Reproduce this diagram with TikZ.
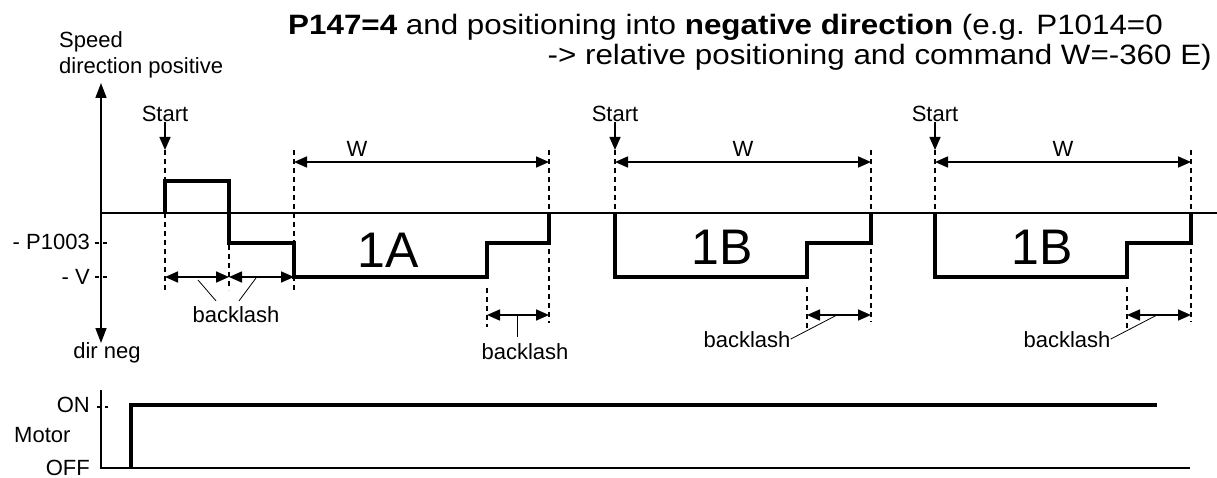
\documentclass[tikz,border=0pt]{standalone}
\usepackage{fontspec}
\setmainfont{Liberation Sans}
\usetikzlibrary{arrows.meta,positioning}

\tikzset{
  signal/.style={line width=4pt,line join=miter},
  axisline/.style={line width=1.6pt},
  guide/.style={line width=1.6pt,dash pattern=on 5pt off 4pt},
  tip/.style={line width=1.6pt,-{Triangle[length=13pt,width=11pt]}},
  dim/.style={line width=1.6pt,{Triangle[length=13pt,width=11pt]}-{Triangle[length=13pt,width=11pt]}},
  leader/.style={line width=0.8pt},
  lbl/.style={font=\fontsize{22}{26}\selectfont,inner sep=0pt},
  big/.style={font=\fontsize{50}{56}\selectfont,inner sep=0pt},
  ttl/.style={font=\fontsize{28}{32}\selectfont,inner sep=0pt,xscale=1.12}
}

\begin{document}
\begin{tikzpicture}[x=1pt,y=-1pt]
\useasboundingbox (0,0) rectangle (1217,478);

% title
\node[ttl,anchor=base west] (t1) at (288,35) {\textbf{P147=4} and positioning into \textbf{negative direction} (e.g. P1014=0};
\node[ttl,anchor=base east] (t2) at (1212,65) {-> relative positioning and command W=-360 E)};

% speed axis
\coordinate (yup) at (101,83);
\coordinate (ydn) at (101,343);
\draw[axisline,{Triangle[length=15pt,width=11pt]}-{Triangle[length=15pt,width=11pt]}] (ydn) -- (yup);
\draw[axisline] (101,213) -- (1217,213);
\node[lbl,anchor=base west] (spd) at (59,48) {Speed};
\node[lbl,anchor=base west] (dpos) at (59,74) {direction positive};
\node[lbl,anchor=base] (dneg) at (107,358) {dir neg};
\node[lbl,anchor=base east] (lp) at (90,250) {- P1003};
\node[lbl,anchor=base east] (lv) at (90,284) {- V};
\draw[guide,dash pattern=on 4pt off 4pt] (95,243) -- (108,243);
\draw[guide,dash pattern=on 4pt off 4pt] (95,277) -- (108,277);

% run 1A with backlash
\draw[guide] (165,150) -- (165,290);
\draw[guide] (229,245) -- (229,290);
\draw[guide] (294,150) -- (294,292);
\draw[guide] (549,150) -- (549,323);
\draw[guide] (487,288) -- (487,327);
\draw[signal] (165,213) -- (165,181) -- (229,181) -- (229,243) -- (294,243)
  -- (294,277) -- (487,277) -- (487,243) -- (549,243) -- (549,213);
\node[lbl,anchor=base] (st0) at (165,122) {Start};
\coordinate (s0) at (165,150);
\draw[tip] (st0.base) -- (s0);
\coordinate (wa0) at (294,162);
\coordinate (wa1) at (549,162);
\draw[dim] (wa0) -- (wa1);
\node[lbl,anchor=base] (wa) at (357,157) {W};
\node[big] (n1a) at (388,250) {1A};
\coordinate (b0) at (165,277);
\coordinate (b1) at (229,277);
\coordinate (b2) at (294,277);
\draw[dim] (b0) -- (b1);
\draw[dim] (b1) -- (b2);
\node[lbl,anchor=base] (bk1) at (236,322) {backlash};
\draw[leader] (198,280) -- ([xshift=-20pt,yshift=5pt]bk1.north);
\draw[leader] (256,278) -- ([xshift=3pt,yshift=5pt]bk1.north);
\coordinate (b3) at (487,315);
\coordinate (b4) at (549,315);
\draw[dim] (b3) -- (b4);
\node[lbl,anchor=base] (bk2) at (525,359) {backlash};
\draw[leader] (517,315) -- ([xshift=-8pt,yshift=6pt]bk2.north);

% runs 1B
\foreach \s/\n in {0/a,320/b}{
\begin{scope}[xshift=\s pt]
  \draw[guide] (615,150) -- (615,213);
  \draw[guide] (871,150) -- (871,322);
  \draw[guide] (807,287) -- (807,330);
  \draw[signal] (615,213) -- (615,277) -- (807,277) -- (807,243) -- (871,243) -- (871,213);
  \node[lbl,anchor=base] (st\n) at (615,122) {Start};
  \coordinate (s\n) at (615,150);
  \draw[tip] (st\n.base) -- (s\n);
  \coordinate (w\n0) at (615,162);
  \coordinate (w\n1) at (871,162);
  \draw[dim] (w\n0) -- (w\n1);
  \node[lbl,anchor=base] (w\n) at (743,157) {W};
  \node[big] (n1b\n) at (722,247) {1B};
  \coordinate (c\n0) at (807,315);
  \coordinate (c\n1) at (871,315);
  \draw[dim] (c\n0) -- (c\n1);
  \node[lbl,anchor=base] (bk\n) at (747,347) {backlash};
  \draw[leader] (bk\n.east) -- (837,315);
\end{scope}
}

% motor
\draw[axisline] (101,390) -- (101,468) -- (1190,468);
\draw[signal] (131,468) -- (131,405) -- (1157,405);
\draw[guide,dash pattern=on 4pt off 4pt] (97,407) -- (108,407);
\node[lbl,anchor=base east] (on) at (90,412) {ON};
\node[lbl,anchor=base west] (mot) at (14,442) {Motor};
\node[lbl,anchor=base east] (off) at (90,475) {OFF};
\end{tikzpicture}
\end{document}
